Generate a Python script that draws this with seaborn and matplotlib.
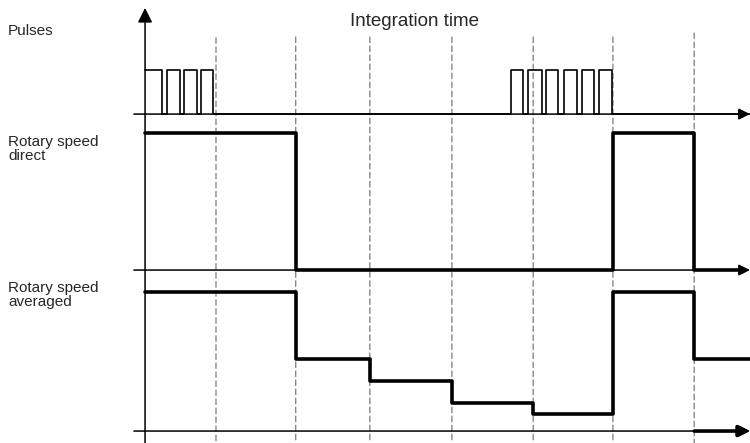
import matplotlib
matplotlib.use("Agg")
import matplotlib.pyplot as plt
from matplotlib.patches import ConnectionPatch
import numpy as np
import pandas as pd
import seaborn as sns

# time axis in integration periods, vertical axis at t = 0
boundaries = [0.89, 1.89, 2.82, 3.85, 4.87, 5.87, 6.89]
dash_tops = [1.73, 1.75, 1.75, 1.75, 1.75, 1.75, 1.84]

# pulse edges (start / end of each pulse)
pulse_starts = [0.00, 0.27, 0.49, 0.70, 4.59, 4.81, 5.03, 5.26, 5.48, 5.70]
pulse_ends = [0.21, 0.44, 0.65, 0.85, 4.74, 4.98, 5.18, 5.42, 5.63, 5.86]

# rotary speed direct (step after each time)
direct_t = [0.0, 1.89, 5.87, 6.89, 7.50]
direct_v = [1.0, 0.0, 1.0, 0.0, 0.0]

# rotary speed averaged (step after each time)
avg_t = [0.0, 1.89, 2.82, 3.85, 4.87, 5.87, 6.89, 7.59]
avg_v = [1.0, 0.52, 0.36, 0.20, 0.12, 1.0, 0.52, 0.52]

labels = ["Pulses", "Rotary speed\ndirect", "Rotary speed\naveraged"]
title = "Integration time"

XLIM = (-1.82, 7.59)
AXIS_START = -0.14

sns.set_theme(style="white")
plt.rcParams["font.family"] = ["Liberation Sans", "DejaVu Sans"]

W, H = 750, 443
fig = plt.figure(figsize=(W / 100, H / 100), dpi=100)

# three stacked tracks (pixel spans from top)
spans = [(0, 122), (122, 278), (278, 443)]
ylims = [(-0.18, 2.59), (-0.058, 1.08), (-0.086, 1.10)]
axes = []
for (top, bot), yl in zip(spans, ylims):
    ax = fig.add_axes([0, 1 - bot / H, 1, (bot - top) / H])
    ax.set_xlim(*XLIM)
    ax.set_ylim(*yl)
    ax.axis("off")
    ax.patch.set_visible(False)
    axes.append(ax)
ax_p, ax_d, ax_a = axes

# pulses
edges = sorted(pulse_starts + pulse_ends)
levels = [1 if e in pulse_starts else 0 for e in edges]
pulses = pd.DataFrame({"t": [0.0] + edges[1:] + [XLIM[1]],
                       "v": levels + [0]})
sns.lineplot(data=pulses, x="t", y="v", drawstyle="steps-post", ax=ax_p,
             color="black", lw=1.2, estimator=None)

# direct speed
sns.lineplot(x=direct_t, y=direct_v, drawstyle="steps-post", ax=ax_d,
             color="black", lw=2.6, estimator=None)

# averaged speed
sns.lineplot(x=avg_t, y=avg_v, drawstyle="steps-post", ax=ax_a,
             color="black", lw=2.6, estimator=None)

for ax in axes:
    ax.annotate("", xy=(XLIM[1], 0), xytext=(AXIS_START, 0),
                arrowprops=dict(arrowstyle="-|>", color="black", lw=1.1,
                                mutation_scale=17, shrinkA=0, shrinkB=0),
                annotation_clip=False)

# thick output arrow on the averaged axis
ax_a.annotate("", xy=(XLIM[1], 0), xytext=(boundaries[-1], 0),
              arrowprops=dict(arrowstyle="-|>", color="black", lw=2.6,
                              mutation_scale=16, shrinkA=0, shrinkB=0),
              annotation_clip=False)

# vertical axis with arrow head on top
vaxis = ConnectionPatch(xyA=(0, ylims[2][0]), coordsA=ax_a.transData,
                        xyB=(0, 2.41), coordsB=ax_p.transData,
                        arrowstyle="-|>", mutation_scale=22, lw=1.1,
                        color="black")
fig.add_artist(vaxis)

# integration time boundaries
for b, top in zip(boundaries, dash_tops):
    cp = ConnectionPatch(xyA=(b, top), coordsA=ax_p.transData,
                         xyB=(b, ylims[2][0]), coordsB=ax_a.transData,
                         color="#888888", lw=1.0, linestyle=(0, (4, 2.5)),
                         zorder=-1)
    fig.add_artist(cp)

# track labels
fig.text(8 / W, 1 - 31 / H, labels[0], fontsize=11, va="center", ha="left")
fig.text(8 / W, 1 - 135 / H, labels[1], fontsize=11, va="top", ha="left",
         linespacing=1.0)
fig.text(8 / W, 1 - 281 / H, labels[2], fontsize=11, va="top", ha="left",
         linespacing=1.0)
fig.text(414 / W, 1 - 22 / H, title, fontsize=13.5, va="center", ha="center")

fig.savefig("out.png", dpi=100)
